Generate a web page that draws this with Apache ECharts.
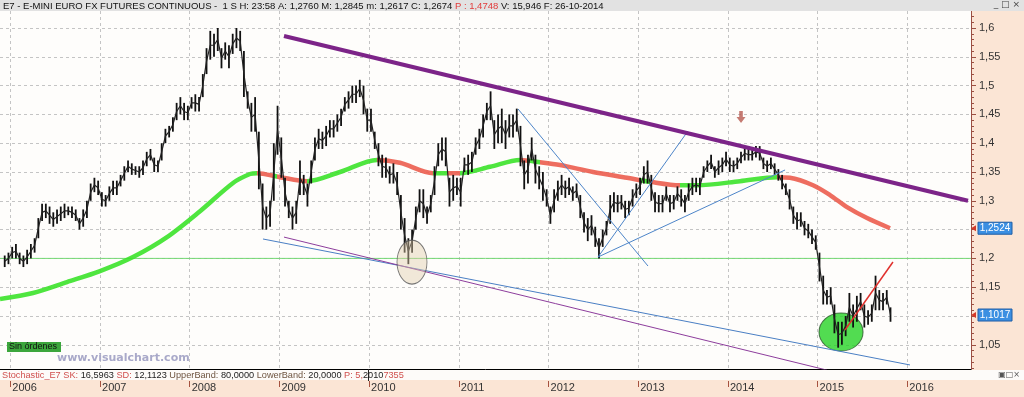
<!DOCTYPE html>
<html><head><meta charset="utf-8">
<script src="https://cdn.jsdelivr.net/npm/echarts@6/dist/echarts.min.js"></script>
<style>html,body{margin:0;padding:0;background:#fbe5d5;}#c{width:1024px;height:397px;}</style>
</head><body><div id="c"></div><script>
// ---- categories: half-month bars starting Dec 2005 (weekly futures chart, sampled twice a month)
const startYear = 2005, startMonth = 12;
// low / high of each half month (two per month), Dec 2005 .. Oct 2015
const priceLow = [
1.185,1.19, 1.20,1.20, 1.19,1.185, 1.19,1.20, 1.21,1.235, 1.265,1.27, 1.26,1.255, 1.26,1.265, 1.27,1.275, 1.27,1.265, 1.25,1.255, 1.27,1.30, 1.315,1.31,
1.29,1.29, 1.30,1.31, 1.31,1.325, 1.335,1.35, 1.345,1.345, 1.34,1.345, 1.36,1.37, 1.35,1.35, 1.37,1.40, 1.41,1.42, 1.44,1.45, 1.44,1.44,
1.46,1.455, 1.455,1.48, 1.52,1.545, 1.55,1.56, 1.53,1.545, 1.53,1.555, 1.565,1.56, 1.48,1.46, 1.42,1.42, 1.32,1.25, 1.25,1.255, 1.30,1.38,
1.34,1.29, 1.27,1.25, 1.26,1.31, 1.31,1.29, 1.33,1.37, 1.39,1.39, 1.395,1.41, 1.41,1.42, 1.43,1.455, 1.46,1.47, 1.47,1.48, 1.45,1.42,
1.42,1.39, 1.36,1.34, 1.34,1.33, 1.33,1.31, 1.25,1.21, 1.19,1.21, 1.25,1.28, 1.27,1.26, 1.28,1.31, 1.36,1.37, 1.36,1.29, 1.30,1.31,
1.29,1.35, 1.345,1.35, 1.38,1.39, 1.41,1.44, 1.44,1.39, 1.40,1.40, 1.39,1.41, 1.41,1.42, 1.36,1.32, 1.33,1.37, 1.33,1.32, 1.30,1.29,
1.26,1.28, 1.30,1.31, 1.305,1.31, 1.30,1.305, 1.27,1.245, 1.23,1.24, 1.22,1.20, 1.22,1.24, 1.26,1.28, 1.28,1.285, 1.27,1.275, 1.29,1.305,
1.31,1.33, 1.33,1.30, 1.28,1.28, 1.28,1.30, 1.28,1.285, 1.30,1.29, 1.28,1.30, 1.31,1.315, 1.31,1.34, 1.35,1.355, 1.34,1.345, 1.35,1.36,
1.35,1.35, 1.355,1.365, 1.37,1.37, 1.37,1.375, 1.37,1.355, 1.35,1.355, 1.345,1.335, 1.32,1.31, 1.285,1.26, 1.25,1.255, 1.24,1.235, 1.225,1.215,
1.16,1.12, 1.12,1.12, 1.07,1.045, 1.05,1.065, 1.09,1.08, 1.09,1.11, 1.08,1.085, 1.09,1.11, 1.11,1.11, 1.12,1.09
];
const priceHigh = [
1.205,1.21, 1.22,1.225, 1.21,1.205, 1.215,1.225, 1.235,1.27, 1.295,1.295, 1.29,1.28, 1.285,1.29, 1.295,1.29, 1.29,1.285, 1.27,1.285, 1.30,1.33, 1.34,1.335,
1.315,1.31, 1.325,1.335, 1.335,1.345, 1.36,1.37, 1.365,1.36, 1.36,1.37, 1.385,1.39, 1.375,1.37, 1.40,1.425, 1.43,1.445, 1.47,1.48, 1.47,1.465,
1.48,1.485, 1.48,1.52, 1.565,1.595, 1.59,1.60, 1.565,1.575, 1.57,1.59, 1.60,1.595, 1.56,1.49, 1.47,1.48, 1.42,1.33, 1.29,1.30, 1.40,1.465,
1.41,1.34, 1.30,1.29, 1.30,1.37, 1.345,1.33, 1.37,1.41, 1.425,1.42, 1.43,1.44, 1.44,1.45, 1.46,1.48, 1.49,1.50, 1.50,1.51, 1.50,1.46,
1.46,1.42, 1.40,1.38, 1.375,1.36, 1.365,1.35, 1.31,1.27, 1.235,1.25, 1.29,1.32, 1.32,1.29, 1.31,1.36, 1.40,1.41, 1.41,1.34, 1.345,1.34,
1.34,1.375, 1.38,1.385, 1.41,1.425, 1.45,1.47, 1.49,1.44, 1.45,1.46, 1.44,1.45, 1.45,1.46, 1.43,1.37, 1.38,1.41, 1.38,1.36, 1.35,1.32,
1.29,1.32, 1.335,1.345, 1.335,1.34, 1.325,1.33, 1.31,1.28, 1.27,1.275, 1.255,1.235, 1.25,1.265, 1.31,1.315, 1.31,1.31, 1.30,1.30, 1.32,1.33,
1.34,1.36, 1.37,1.345, 1.315,1.31, 1.31,1.325, 1.31,1.31, 1.325,1.32, 1.31,1.33, 1.34,1.34, 1.34,1.36, 1.37,1.38, 1.36,1.37, 1.375,1.385,
1.375,1.37, 1.375,1.385, 1.395,1.39, 1.39,1.395, 1.395,1.375, 1.37,1.375, 1.365,1.355, 1.345,1.33, 1.32,1.29, 1.28,1.28, 1.265,1.26, 1.25,1.24,
1.21,1.17, 1.145,1.15, 1.12,1.09, 1.09,1.10, 1.14,1.12, 1.135,1.14, 1.12,1.11, 1.12,1.17, 1.145,1.14, 1.145,1.115
];
// 200-period moving average (decimal year, value)
const maTimes  = [2005.885,2006.253,2006.632,2007.0,2007.368,2007.747,2008.115,2008.483,2008.672,2008.750,2009.007,2009.308,2009.676,2010.088,2010.344,2010.712,2011.013,2011.348,2011.682,2011.905,2012.128,2012.496,2012.875,2013.132,2013.466,2013.656,2014.135,2014.547,2014.692,2014.949,2015.138,2015.328,2015.551,2015.807];
const maValues = [1.1295,1.140,1.159,1.178,1.2024,1.237,1.282,1.331,1.3465,1.348,1.341,1.334,1.350,1.371,1.366,1.348,1.348,1.359,1.371,1.367,1.362,1.350,1.340,1.333,1.327,1.327,1.334,1.341,1.340,1.327,1.310,1.289,1.270,1.2524];
// spans where price is below the average (average drawn red)
const maRedSpans = [[2008.750,2008.929],[2008.973,2009.308],[2010.088,2010.712],[2010.868,2011.013],[2011.682,2011.760],[2011.905,2013.020],[2013.132,2013.466],[2014.547,2016.8]];
// drawn studies
const trendTop      = [[2009.051,1.586],[2016.677,1.300]];
const channelBlue   = [[2008.817,1.2337],[2016.030,1.015]];
const channelPurple = [[2009.051,1.237],[2015.105,1.006]];
const fanA = [[2011.660,1.4594],[2013.109,1.1868]];
const fanB = [[2012.552,1.2024],[2013.555,1.4212]];
const fanC = [[2012.552,1.2024],[2014.637,1.3535]];
const redRise = [[2015.305,1.0757],[2015.840,1.1937]];
const supportLevel = 1.2;
const ellipseBeige = [2010.478,1.1937];
const ellipseGreen = [2015.261,1.0722];
const arrowMark = [2014.146,1.4455];
const lastMA = 1.2524, lastClose = 1.1017;
// axes
const yearTicks = [2006,2007,2008,2009,2010,2011,2012,2013,2014,2015,2016];
const priceTicks = [1.05,1.1,1.15,1.2,1.25,1.3,1.35,1.4,1.45,1.5,1.55,1.6];
const X_MIN = 2005.885, X_MAX = 2016.710, Y_MIN = 1.008, Y_MAX = 1.6295;

const minorTicks = [];
for (let k = 101; k <= 162; k++) minorTicks.push(k / 100);

function halfTime(i) {
  const m = (startMonth - 1) + Math.floor(i / 2);
  return startYear + m / 12 + (i % 2) / 24 + 1 / 48;
}
const priceData = priceLow.map((lo, i) => [halfTime(i), lo, priceHigh[i]]);
const midData = priceLow.map((lo, i) => [halfTime(i), (lo + priceHigh[i]) / 2]);
const maData = maTimes.map((t, i) => [t, maValues[i]]);
const fmtPrice = v => (+v).toFixed(2).replace(/0$/, '').replace('.', ',');

const GREEN = '#3be32a', RED = '#ec5d4e';
function seg(data, color, width, z) {
  return {type:'line', data:data, symbol:'none', silent:true, animation:false, z:z||4,
          lineStyle:{color:color, width:width}};
}

const chart = echarts.init(document.getElementById('c'), null, {renderer:'canvas'});
const option = {
  animation:false,
  backgroundColor:'#fbe5d5',
  grid:{left:0, right:53, top:11, bottom:28, show:true, backgroundColor:'#fefdfb', borderWidth:0},
  xAxis:[
    {type:'value', min:X_MIN, max:X_MAX, position:'bottom',
     axisLine:{show:true, onZero:false, lineStyle:{color:'#000', width:1}},
     axisTick:{show:false, customValues:yearTicks},
     axisLabel:{show:false, customValues:yearTicks},
     splitLine:{show:true, lineStyle:{color:'#c4c4c4', type:[3,3], width:1}}},
    {type:'value', min:X_MIN, max:X_MAX, position:'bottom', offset:12,
     axisLine:{show:false},
     axisTick:{show:true, customValues:yearTicks, length:6, lineStyle:{color:'#a5523f'}},
     axisLabel:{customValues:yearTicks, margin:1, align:'left', padding:[0,0,0,2], color:'#333',
                fontFamily:'Liberation Sans', fontSize:11, formatter:v=>String(Math.round(v))},
     splitLine:{show:false}}
  ],
  yAxis:[
    {type:'value', min:Y_MIN, max:Y_MAX, position:'right',
     axisLine:{show:true, lineStyle:{color:'#9b4f42', width:1}},
     axisTick:{show:true, customValues:priceTicks, length:5, lineStyle:{color:'#9b4f42'}},
     axisLabel:{customValues:priceTicks, margin:8, color:'#333', fontFamily:'Liberation Sans', fontSize:11, formatter:fmtPrice},
     splitLine:{show:true, lineStyle:{color:'#c4c4c4', type:[3,3], width:1}}},
    {type:'value', min:Y_MIN, max:Y_MAX, position:'right',
     axisLine:{show:false},
     axisTick:{show:true, customValues:minorTicks, length:3, lineStyle:{color:'#9b4f42'}},
     axisLabel:{show:false}, splitLine:{show:false}}
  ],
  visualMap:{type:'piecewise', show:false, dimension:0, seriesIndex:2,
     pieces:maRedSpans.map(s=>({gte:s[0], lt:s[1], color:RED})), outOfRange:{color:GREEN}},
  series:[
    {type:'scatter', data:[ellipseGreen], symbol:'circle', symbolSize:[44,38], silent:true, z:2,
     itemStyle:{color:'#27d327', borderColor:'#2d5a2d', borderWidth:1}},
    seg([[X_MIN,supportLevel],[X_MAX,supportLevel]], '#74d874', 1, 2),
    {type:'line', data:maData, symbol:'none', smooth:0.3, silent:true, z:3, lineStyle:{width:4.5, opacity:0.9}},
    {type:'custom', data:priceData, encode:{x:0, y:[1,2]}, z:4, silent:true,
     renderItem:(params, api)=>{
       const a = api.coord([api.value(0), api.value(1)]);
       const b = api.coord([api.value(0), api.value(2)]);
       return {type:'line', shape:{x1:a[0], y1:a[1], x2:b[0], y2:b[1]}, style:{stroke:'#111', lineWidth:1.8}};
     }},
    {type:'line', data:midData, symbol:'none', silent:true, z:4, lineStyle:{color:'#222', width:1.2}},
    {type:'scatter', data:[ellipseBeige], symbol:'circle', symbolSize:[30,44], silent:true, z:5,
     itemStyle:{color:'rgba(226,205,170,0.55)', borderColor:'#555', borderWidth:1}},
    seg(fanA, '#4d85c9', 1, 5),
    seg(fanB, '#4d85c9', 1, 5),
    seg(fanC, '#4d85c9', 1, 5),
    seg(channelBlue, '#4a7fc4', 1, 5),
    seg(channelPurple, '#8d3d9c', 1, 5),
    seg(trendTop, '#7c2488', 4, 6),
    seg(redRise, '#e0302c', 1.5, 6),
    {type:'scatter', data:[arrowMark], symbol:'path://M3,0 L7,0 L7,6 L10,6 L5,12 L0,6 L3,6 Z', symbolSize:[9,12],
     silent:true, z:7, itemStyle:{color:'#b65a50'}}
  ]
};
chart.setOption(option);

const yMA = chart.convertToPixel({yAxisIndex:0}, lastMA);
const yCl = chart.convertToPixel({yAxisIndex:0}, lastClose);
function tag(y, txt) {
  return [
    {type:'polygon', shape:{points:[[971,y],[976,y-3],[976,y+3]]}, style:{fill:'#d23a2a'}, z:20},
    {type:'rect', shape:{x:978, y:y-6, width:34, height:12}, style:{fill:'#3b8fe2', stroke:'#1f5ea6', lineWidth:1}, z:20},
    {type:'text', x:995, y:y, style:{text:txt, fill:'#fff', font:'10px Liberation Sans', align:'center', verticalAlign:'middle'}, z:21}
  ];
}
const graphics = [
  {type:'rect', shape:{x:0, y:0, width:1024, height:11}, style:{fill:'#e2e2e2'}, z:20},
  {type:'text', x:3, y:6, z:21, style:{
     text:'{k|E7 - E-MINI EURO FX FUTURES CONTINUOUS -  1 S H: 23:58 A: 1,2760 M: 1,2845 m: 1,2617 C: 1,2674 }{r|P : 1,4748}{k| V: 15,946 F: 26-10-2014}',
     verticalAlign:'middle', font:'9.5px Liberation Sans',
     rich:{k:{fill:'#111', font:'9.5px Liberation Sans'}, r:{fill:'#e23b3b', font:'9.5px Liberation Sans'}}}},
  {type:'text', x:1020, y:5, z:21, style:{text:'_ □ ×', fill:'#444', font:'9px DejaVu Sans', align:'right', verticalAlign:'middle'}},
  {type:'rect', shape:{x:0, y:370, width:1024, height:10}, style:{fill:'#fdfbf9'}, z:20},
  {type:'text', x:2, y:375, z:21, style:{
     text:'{r|Stochastic_E7 SK:} {k|16,5963} {r|SD:} {k|12,1123} {b|UpperBand:} {k|80,0000} {b|LowerBand:} {k|20,0000} {r|P: 5,}{k|2010}{r|7355}',
     verticalAlign:'middle', font:'9.2px Liberation Sans',
     rich:{k:{fill:'#222', font:'9.2px Liberation Sans'}, r:{fill:'#d0504e', font:'9.2px Liberation Sans'}, b:{fill:'#6e5440', font:'9.2px Liberation Sans'}}}},
  {type:'line', shape:{x1:368.5, y1:369, x2:368.5, y2:381}, style:{stroke:'#222', lineWidth:1}, z:22},
  {type:'text', x:1020, y:375, z:21, style:{text:'▣□×', fill:'#555', font:'8px DejaVu Sans', align:'right', verticalAlign:'middle'}},
  {type:'rect', shape:{x:7, y:342, width:54, height:10}, style:{fill:'#3ca63c'}, z:20},
  {type:'text', x:9, y:347, z:21, style:{text:'Sin órdenes', fill:'#111', font:'9px Liberation Sans', verticalAlign:'middle'}},
  {type:'text', x:57, y:358, z:21, style:{text:'www.visualchart.com', fill:'#a9a9c9', font:'bold 11px DejaVu Sans', verticalAlign:'middle'}}
].concat(tag(yMA, '1,2524'), tag(yCl, '1,1017'));
chart.setOption({graphic:graphics});
</script></body></html>
